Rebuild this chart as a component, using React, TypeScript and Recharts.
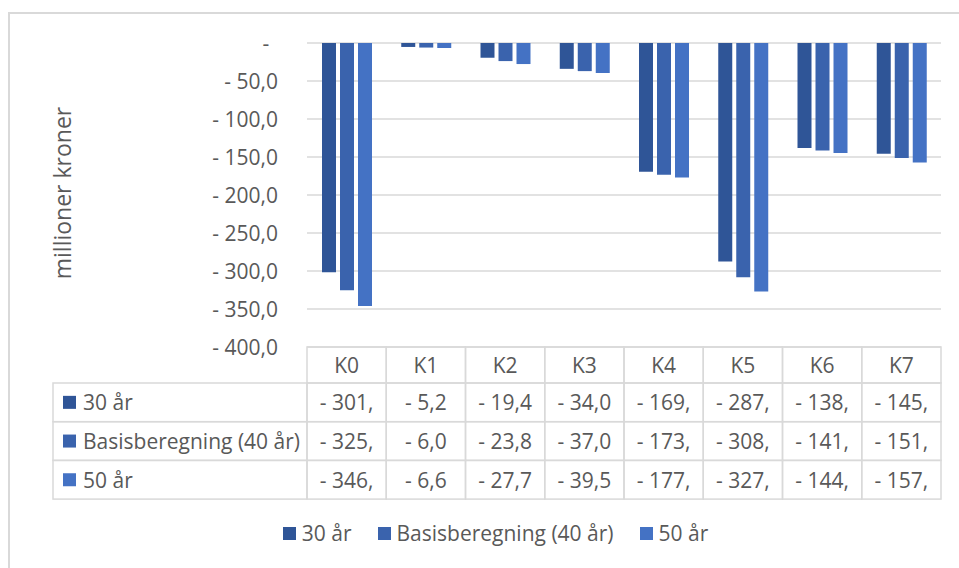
import { BarChart, Bar, XAxis, YAxis, CartesianGrid, Legend } from 'recharts';

const categories = ['K0', 'K1', 'K2', 'K3', 'K4', 'K5', 'K6', 'K7'];
const seriesNames = ['30 år', 'Basisberegning (40 år)', '50 år'];
const years30 = [-301.6, -5.2, -19.4, -34.0, -169.5, -287.4, -138.3, -145.8];
const years40 = [-325.4, -6.0, -23.8, -37.0, -173.3, -308.2, -141.4, -151.2];
const years50 = [-346.2, -6.6, -27.7, -39.5, -177.1, -327.0, -144.6, -157.3];
const yTicks = [0, -50, -100, -150, -200, -250, -300, -350, -400];

const seriesValues = [years30, years40, years50];
const seriesKeys = ['s30', 's40', 's50'];
const seriesColors = ['#2F5597', '#3A63AD', '#4472C4'];

const data = categories.map((name, i) => ({
  name,
  s30: years30[i],
  s40: years40[i],
  s50: years50[i],
}));

const FONT = '"Open Sans", "Noto Sans", sans-serif';
const FS = 21;
const TEXT = '#595959';
const LINE = '#d9d9d9';

const WIDTH = 951;
const HEIGHT = 552;
const PLOT_LEFT = 299;
const PLOT_RIGHT = 933;
const TABLE_TOP = 339;
const HEADER_H = 36;
const ROW_H = 38.7;
const LABEL_COL_LEFT = 45;
const COL_W = (PLOT_RIGHT - PLOT_LEFT) / categories.length;

// excel accounting style: "- 50,0", zero shown as "-"
const fmtAxis = (v: number) =>
  v === 0 ? '-' : '- ' + Math.abs(v).toFixed(1).replace('.', ',');

// table cells are too narrow for three-digit values, so the text gets clipped
const fmtCell = (v: number) => {
  const s = '- ' + Math.abs(v).toFixed(1).replace('.', ',');
  return s.length > 6 ? s.slice(0, 6) : s;
};

function YTick(props: any) {
  const { y, payload } = props;
  const zero = payload.value === 0;
  return (
    <text
      x={zero ? 258 : 270}
      y={y}
      textAnchor={zero ? 'middle' : 'end'}
      dominantBaseline="central"
      fill={TEXT}
      fontSize={FS}
      fontFamily={FONT}
    >
      {fmtAxis(payload.value)}
    </text>
  );
}

function YTitle() {
  return (
    <text
      x={54}
      y={185}
      transform="rotate(-90 54 185)"
      textAnchor="middle"
      dominantBaseline="central"
      fill={TEXT}
      fontSize={23}
      fontFamily={FONT}
    >
      millioner kroner
    </text>
  );
}

// draws one column of the data table under each category
function TableColumn(props: any) {
  const { x, payload } = props;
  const idx = categories.indexOf(payload.value);
  const left = x - COL_W / 2;
  const top = TABLE_TOP;
  return (
    <g>
      <rect x={left} y={top} width={COL_W} height={HEADER_H} fill="none" stroke={LINE} strokeWidth={1.5} />
      <text x={x} y={top + HEADER_H / 2} textAnchor="middle" dominantBaseline="central" fill={TEXT} fontSize={FS} fontFamily={FONT}>
        {payload.value}
      </text>
      {seriesValues.map((vals, r) => {
        const ry = top + HEADER_H + r * ROW_H;
        return (
          <g key={r}>
            <rect x={left} y={ry} width={COL_W} height={ROW_H} fill="none" stroke={LINE} strokeWidth={1.5} />
            <text x={x} y={ry + ROW_H / 2} textAnchor="middle" dominantBaseline="central" fill={TEXT} fontSize={FS} fontFamily={FONT}>
              {fmtCell(vals[idx])}
            </text>
          </g>
        );
      })}
      {idx === 0 &&
        seriesNames.map((name, r) => {
          const ry = top + HEADER_H + r * ROW_H;
          return (
            <g key={name}>
              <rect x={LABEL_COL_LEFT} y={ry} width={PLOT_LEFT - LABEL_COL_LEFT} height={ROW_H} fill="none" stroke={LINE} strokeWidth={1.5} />
              <rect x={LABEL_COL_LEFT + 10} y={ry + ROW_H / 2 - 6.5} width={13} height={13} fill={seriesColors[r]} />
              <text x={LABEL_COL_LEFT + 30} y={ry + ROW_H / 2} dominantBaseline="central" fill={TEXT} fontSize={FS} fontFamily={FONT}>
                {name}
              </text>
            </g>
          );
        })}
    </g>
  );
}

function LegendBox() {
  return (
    <div
      style={{
        height: 56,
        display: 'flex',
        justifyContent: 'center',
        alignItems: 'flex-end',
        paddingLeft: 42,
        boxSizing: 'border-box',
        paddingBottom: 8,
        fontFamily: FONT,
        fontSize: FS,
        color: TEXT,
        gap: 26,
      }}
    >
      {seriesNames.map((name, i) => (
        <div key={name} style={{ display: 'flex', alignItems: 'center', gap: 6 }}>
          <span style={{ width: 13, height: 13, background: seriesColors[i], display: 'inline-block' }} />
          <span>{name}</span>
        </div>
      ))}
    </div>
  );
}

export default function App() {
  return (
    <div style={{ position: 'fixed', left: 8, top: 8, width: WIDTH, height: 560, overflow: 'hidden', background: '#fff' }}>
      <div
        style={{
          position: 'absolute',
          left: 0,
          top: 4,
          width: 980,
          height: 600,
          border: `2px solid ${LINE}`,
        }}
      />
      <BarChart
        width={WIDTH}
        height={HEIGHT}
        data={data}
        margin={{ top: 35, right: WIDTH - PLOT_RIGHT, bottom: 5, left: 0 }}
        barSize={14}
        barGap={4}
      >
        <CartesianGrid vertical={false} stroke={LINE} strokeWidth={1.5} />
        <XAxis
          dataKey="name"
          height={152}
          axisLine={false}
          tickLine={false}
          interval={0}
          tick={<TableColumn />}
        />
        <YAxis
          width={PLOT_LEFT}
          domain={[-400, 0]}
          ticks={yTicks}
          axisLine={false}
          tickLine={false}
          tick={<YTick />}
          label={<YTitle />}
        />
        <Legend verticalAlign="bottom" content={<LegendBox />} />
        {seriesKeys.map((key, i) => (
          <Bar key={key} dataKey={key} name={seriesNames[i]} fill={seriesColors[i]} isAnimationActive={false} />
        ))}
      </BarChart>
    </div>
  );
}
